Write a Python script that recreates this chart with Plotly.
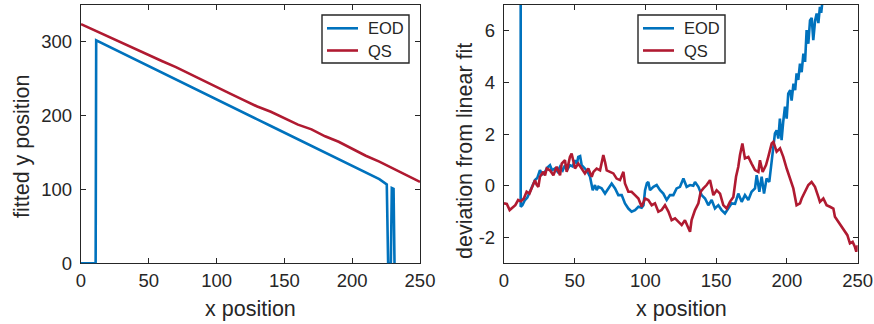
import plotly.graph_objects as go

# ---- left panel: fitted y position vs x position ----
eod_fit_x = [0, 10.8, 11.2, 20, 30, 40, 50, 60, 70, 80, 90, 100, 110, 120, 130, 140,
             150, 160, 170, 180, 190, 200, 210, 220, 225.5, 226.5, 228.5, 229.2, 230.5, 231.2]
eod_fit_y = [0, 0, 302, 294, 285, 276, 267, 258, 249, 240, 231, 222, 213, 204, 195, 186,
             177, 168, 159, 150, 141, 132, 123, 114, 107, 0, 0, 102, 101, 0]

qs_fit_x = [0, 10, 20, 30, 40, 50, 60, 70, 80, 90, 100, 110, 120, 130, 140, 150,
            160, 170, 180, 190, 200, 210, 220, 230, 240, 250]
qs_fit_y = [324, 315.5, 307.4, 299.4, 290.9, 282.5, 273.8, 265.8, 256.6, 247.6, 238.8,
            229.9, 221, 212.4, 205.3, 196.7, 187.9, 181.5, 172.1, 164.7, 155.3, 145.8,
            137.8, 128.5, 119.1, 110.3]

# ---- right panel: deviation from linear fit ----
eod_dev_x = [11.5, 11.8, 13, 14.8, 16.5, 18.4, 20, 21.9, 23.5, 25.4, 27, 29, 30.5, 32.5, 34,
             36, 37.8, 39.6, 41.5, 43.1, 45, 46.6, 48.5, 50.2, 51.5, 52.5, 53.8, 54.9, 57.2,
             59, 60.8, 62.7, 64.3, 65.5, 66.7, 69, 71.4, 73.8, 76.1, 78.5, 80.8, 83.2, 85.5,
             87.9, 90.2, 92.6, 95, 97.3, 98.6, 99.7, 101, 102, 103.2, 105.6, 107.9, 110.3,
             112.6, 115, 117.3, 119.7, 122, 124.4, 126.8, 129.1, 131.5, 133.8, 135, 137.4,
             139.7, 142.1, 144.4, 146.8, 149.1, 151.5, 153.8, 156.2, 158.6, 160.9, 163.3,
             165.6, 168, 170.3, 172.7, 175, 177.4, 178.6, 180.5, 182.1, 183.8, 185.6, 187.5,
             189.2, 190.4, 191.5, 192.7, 193.9, 195, 196.2, 197.4, 198.6, 199.8, 200.9, 202.3,
             203.3, 204.6, 205.8, 206.8, 208, 209.2, 210.4, 211.6, 212.8, 213.9, 215.1, 216.3,
             217.5, 218.6, 219.9, 221, 222.2, 223.3, 224.2, 225, 226]
eod_dev_y = [302, -0.81, -0.75, -0.55, -0.45, -0.23, -0.05, 0.22, 0.3, 0.61, 0.45, 0.54, 0.7,
             0.8, 0.6, 0.67, 0.55, 0.74, 0.6, 0.8, 0.65, 0.8, 0.75, 0.99, 0.85, 1.12, 1.15, 0.8,
             0.67, 0.55, 0.35, -0.17, 0.03, -0.17, -0.04, -0.1, -0.3, -0.1, 0.09, -0.1, -0.36,
             -0.36, -0.68, -0.88, -1.0, -0.94, -0.81, -0.85, -0.75, -0.17, 0.1, 0.15, -0.17,
             -0.04, 0.03, -0.17, -0.3, -0.55, -0.36, -0.36, -0.1, -0.04, 0.28, -0.04, 0.03, 0.0,
             0.15, -0.04, -0.36, -0.49, -0.75, -0.55, -0.88, -0.75, -0.94, -1.07, -0.88, -0.68,
             -0.7, -0.3, -0.62, -0.36, -0.55, -0.23, -0.1, 0.41, -0.23, 0.35, -0.3, 0.28, 0.15,
             0.99, 1.64, 2.03, 2.15, 1.83, 2.6, 1.77, 2.5, 3.06, 2.6, 3.57, 3.7, 3.3, 3.96,
             3.7, 4.35, 4.1, 4.73, 4.4, 5.12, 4.8, 6.03, 5.5, 6.4, 6.5, 5.64, 6.4, 6.67, 6.3,
             6.93, 6.7, 7.1, 7.4]

qs_dev_x = [0, 2, 4, 6, 8, 10, 12, 14, 16, 18, 19.6, 21.9, 23, 24.3, 25.4, 27.8, 29, 30.2,
            32.5, 34.9, 37.2, 39.6, 40.8, 43.1, 44.3, 46.6, 47.8, 49, 50.2, 52.5, 54.9, 57.2,
            59.6, 62, 63.2, 65.5, 67.9, 70.2, 71.5, 72.6, 74.9, 77.3, 79.6, 82, 84.4, 85.5,
            87.9, 90.2, 92.6, 95, 97.3, 99.7, 102, 104.4, 106.7, 109.1, 111.4, 113.8, 116.2,
            118.5, 120.9, 123.2, 125.6, 127.9, 129.1, 131.5, 132.6, 135, 137.4, 139, 140.9,
            143.2, 145.6, 148, 150.3, 152.7, 155, 157.4, 159.7, 162.1, 164, 165.6, 166.8,
            168.5, 170.3, 172.7, 175, 177.4, 179.8, 180.9, 182.8, 185.2, 186.8, 189.2, 190.4,
            192.7, 195.1, 197.4, 199.8, 202.1, 204.5, 206.8, 209.2, 210.4, 212.7, 215.1, 217.4,
            219.8, 222.2, 223.3, 225.7, 228, 230.4, 232.8, 233.9, 236.3, 238.6, 241, 242.7,
            244.5, 246.4, 248, 249, 250]
qs_dev_y = [-0.68, -0.7, -0.94, -0.85, -0.75, -0.55, -0.6, -0.49, -0.23, -0.3, -0.1, 0.22,
            0.05, -0.04, 0.35, 0.54, 0.4, 0.67, 0.6, 0.41, 0.74, 0.41, 0.86, 0.99, 0.54, 1.12,
            1.25, 0.9, 0.67, 0.86, 0.67, 0.48, 0.67, 0.35, 0.54, 0.67, 0.6, 1.19, 0.9, 0.6,
            0.54, 0.48, 0.28, 0.22, 0.54, 0.09, -0.23, -0.23, -0.36, -0.49, -0.81, -0.49,
            -0.55, -0.75, -0.68, -1.0, -0.94, -0.75, -1.0, -1.33, -1.26, -1.39, -1.52, -1.33,
            -1.46, -1.78, -1.33, -0.94, -0.68, -0.23, -0.1, 0.03, 0.22, -0.36, -0.17, -0.3,
            -0.75, -0.88, -0.62, -0.43, 0.35, 0.74, 1.19, 1.64, 1.06, 1.12, 0.86, 0.61, 0.54,
            0.99, 0.54, 0.8, 1.12, 1.64, 1.7, 1.32, 1.45, 1.12, 0.67, 0.28, -0.1, -0.75,
            -0.68, -0.49, -0.23, 0.03, 0.15, -0.04, -0.43, -0.62, -0.49, -0.75, -0.81, -0.88,
            -1.2, -1.39, -1.59, -1.78, -1.91, -2.23, -2.17, -2.36, -2.55, -2.3]

x_ticks = [0, 50, 100, 150, 200, 250]
left_y_ticks = [0, 100, 200, 300]
right_y_ticks = [-2, 0, 2, 4, 6]
right_y_ticktext = ["-2", "0", "2", "4", "6"]
series_names = ["EOD", "QS"]

BLUE = "#0072BD"
RED = "#B01A31"
INK = "#262626"
FONT = "Liberation Sans, Arial, sans-serif"
LW = 2.6

W, H = 874, 324
AX_TOP, AX_BOTTOM = 5, 263.3


def px_x(p):
    return p / W


def px_y(p):
    return (H - p) / H


fig = go.Figure()
fig.add_trace(go.Scatter(x=eod_fit_x, y=eod_fit_y, mode="lines", name=series_names[0],
                         line=dict(color=BLUE, width=LW), xaxis="x", yaxis="y"))
fig.add_trace(go.Scatter(x=qs_fit_x, y=qs_fit_y, mode="lines", name=series_names[1],
                         line=dict(color=RED, width=LW), xaxis="x", yaxis="y"))
fig.add_trace(go.Scatter(x=eod_dev_x, y=eod_dev_y, mode="lines", name=series_names[0],
                         line=dict(color=BLUE, width=LW), xaxis="x2", yaxis="y2"))
fig.add_trace(go.Scatter(x=qs_dev_x, y=qs_dev_y, mode="lines", name=series_names[1],
                         line=dict(color=RED, width=LW), xaxis="x2", yaxis="y2"))

ydom = [px_y(AX_BOTTOM), px_y(AX_TOP)]

axis_common = dict(
    showline=True, linecolor=INK, linewidth=1.4, mirror="ticks",
    ticks="inside", ticklen=5, tickwidth=1.4, tickcolor=INK,
    showgrid=False, zeroline=False,
    tickfont=dict(family=FONT, size=18.5, color=INK),
    automargin=False, layer="below traces",
)

fig.update_layout(
    width=W, height=H,
    margin=dict(l=0, r=0, t=0, b=0),
    paper_bgcolor="white", plot_bgcolor="white",
    showlegend=False,
    xaxis=dict(domain=[px_x(81), px_x(420)], range=[0, 250], tickvals=x_ticks,
               anchor="y", **axis_common),
    yaxis=dict(domain=ydom, range=[0, 350], tickvals=left_y_ticks, anchor="x",
               ticklabelstandoff=4, **axis_common),
    xaxis2=dict(domain=[px_x(504), px_x(857.7)], range=[0, 250], tickvals=x_ticks,
                anchor="y2", **axis_common),
    yaxis2=dict(domain=ydom, range=[-3, 7], tickvals=right_y_ticks,
                ticktext=right_y_ticktext, anchor="x2", ticklabelstandoff=4,
                **axis_common),
)

# axis titles
label_font = dict(family=FONT, size=21.5, color=INK)
titles = [
    ("x position", 250.5, 309, 0),
    ("x position", 681, 309, 0),
    ("fitted y position", 22, 147, -90),
    ("deviation from linear fit", 465, 151, -90),
]
for text, cx, cy, ang in titles:
    fig.add_annotation(text=text, xref="paper", yref="paper", x=px_x(cx), y=px_y(cy),
                       xanchor="center", yanchor="middle", showarrow=False,
                       textangle=ang, font=label_font)

# boxed legends in the top-right of each panel
legend_font = dict(family=FONT, size=16.5, color=INK)
for box_left in (322, 638):
    box_right, box_top, box_bottom = box_left + 87, 15, 63
    fig.add_shape(type="rect", xref="paper", yref="paper",
                  x0=px_x(box_left), x1=px_x(box_right),
                  y0=px_y(box_bottom), y1=px_y(box_top),
                  line=dict(color=INK, width=1.4), fillcolor="white", layer="above")
    for name, color, row_y in zip(series_names, (BLUE, RED), (28.3, 50.5)):
        fig.add_shape(type="line", xref="paper", yref="paper",
                      x0=px_x(box_left + 5), x1=px_x(box_left + 36),
                      y0=px_y(row_y), y1=px_y(row_y),
                      line=dict(color=color, width=LW), layer="above")
        fig.add_annotation(text=name, xref="paper", yref="paper",
                           x=px_x(box_left + 44), y=px_y(row_y),
                           xanchor="left", yanchor="middle", showarrow=False,
                           font=legend_font)

fig.write_html("out.html")
